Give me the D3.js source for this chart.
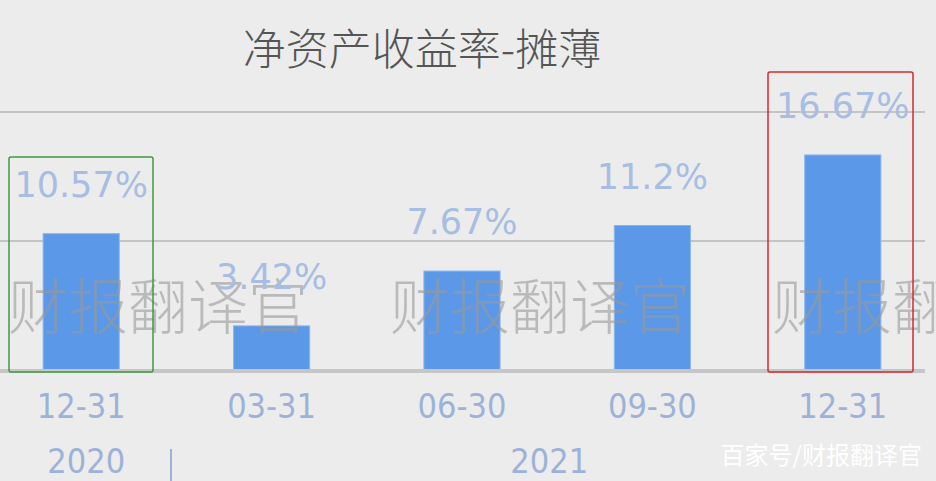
<!DOCTYPE html>
<html><head><meta charset="utf-8">
<script src="https://cdn.jsdelivr.net/npm/d3@7"></script>
<style>html,body{margin:0;padding:0;background:#ececec;}svg{display:block;}</style>
</head><body>
<script>
const categories = ["12-31", "03-31", "06-30", "09-30", "12-31"];
const values = [10.57, 3.42, 7.67, 11.2, 16.67];
const valueLabels = ["10.57%", "3.42%", "7.67%", "11.2%", "16.67%"];
const yearGroups = [{year: "2020", from: 0, to: 0}, {year: "2021", from: 1, to: 4}];
const gridTicks = [10, 20];
const title = "净资产收益率-摊薄";
const watermark = "财报翻译官";
const credit = "百家号/财报翻译官";

const W = 936, H = 481;
const svg = d3.select("body").append("svg").attr("width", W).attr("height", H);
svg.append("rect").attr("width", W).attr("height", H).attr("fill", "#ececec");

const x = d3.scaleBand().domain(d3.range(categories.length)).range([-14, 938]).paddingInner(0.6).paddingOuter(0.3);
const y = d3.scaleLinear().domain([0, 20]).range([370, 112]);
const numFont = "DejaVu Sans";

// gridlines
svg.selectAll(".grid").data(gridTicks).join("line")
  .attr("x1", 0).attr("x2", 925).attr("y1", d => y(d)).attr("y2", d => y(d))
  .attr("stroke", "#c4c4c4").attr("stroke-width", 2);

// title
svg.append("text").attr("x", 422).attr("y", 65).attr("text-anchor", "middle")
  .attr("font-family", "Noto Sans CJK SC").attr("font-size", 43).attr("font-weight", 300).attr("fill", "#555")
  .text(title);

// bars
svg.selectAll(".bar").data(values).join("rect")
  .attr("x", (d, i) => x(i)).attr("width", x.bandwidth())
  .attr("y", d => y(d)).attr("height", d => y(0) - y(d))
  .attr("fill", "#5b98e8").attr("stroke", "#8ab6ee").attr("stroke-width", 1);

// baseline
svg.append("line").attr("x1", 0).attr("x2", 925).attr("y1", y(0) + 1).attr("y2", y(0) + 1)
  .attr("stroke", "#c6c6c6").attr("stroke-width", 4);

// watermark
[158, 540, 922].forEach(cx => {
  svg.append("text").attr("x", cx).attr("y", 329).attr("text-anchor", "middle")
    .attr("font-family", "Noto Sans CJK SC").attr("font-size", 60).attr("font-weight", 300)
    .attr("fill", "#9a9a9a").attr("fill-opacity", 0.6).text(watermark);
});

// value labels
svg.selectAll(".vl").data(values).join("text")
  .attr("x", (d, i) => x(i) + x.bandwidth() / 2).attr("y", d => y(d) - 37)
  .attr("text-anchor", "middle").attr("font-family", numFont).attr("font-size", 35)
  .attr("fill", "#a7bde2").text((d, i) => valueLabels[i]);

// category labels
svg.selectAll(".cl").data(categories).join("text")
  .attr("x", (d, i) => x(i) + x.bandwidth() / 2).attr("y", 418)
  .attr("text-anchor", "middle").attr("font-family", numFont).attr("font-stretch", "condensed").attr("font-size", 34)
  .attr("fill", "#9db2d8").text(d => d);

// year labels
yearGroups.forEach(g => {
  const cx = g.from === g.to ? x(g.from) + x.bandwidth() / 2 + 5 : (x(g.from) + x(g.to) + x.bandwidth()) / 2 - 8;
  svg.append("text").attr("x", cx).attr("y", 473).attr("text-anchor", "middle")
    .attr("font-family", numFont).attr("font-stretch", "condensed").attr("font-size", 34)
    .attr("fill", "#9db2d8").text(g.year);
});
svg.append("line").attr("x1", 171).attr("x2", 171).attr("y1", 449).attr("y2", 481)
  .attr("stroke", "#9db2d8").attr("stroke-width", 2);

// highlight boxes
svg.append("rect").attr("x", 9).attr("y", 157).attr("width", 144).attr("height", 215).attr("rx", 2)
  .attr("fill", "none").attr("stroke", "#3c9a3c").attr("stroke-width", 1.5);
svg.append("rect").attr("x", 768).attr("y", 72).attr("width", 145).attr("height", 300).attr("rx", 2)
  .attr("fill", "none").attr("stroke", "#d8282c").attr("stroke-width", 1.5);

// credit
svg.append("text").attr("x", 922).attr("y", 464).attr("text-anchor", "end")
  .attr("font-family", "Noto Sans CJK SC").attr("font-size", 24).attr("fill", "#ffffff").text(credit);
</script>
</body></html>
